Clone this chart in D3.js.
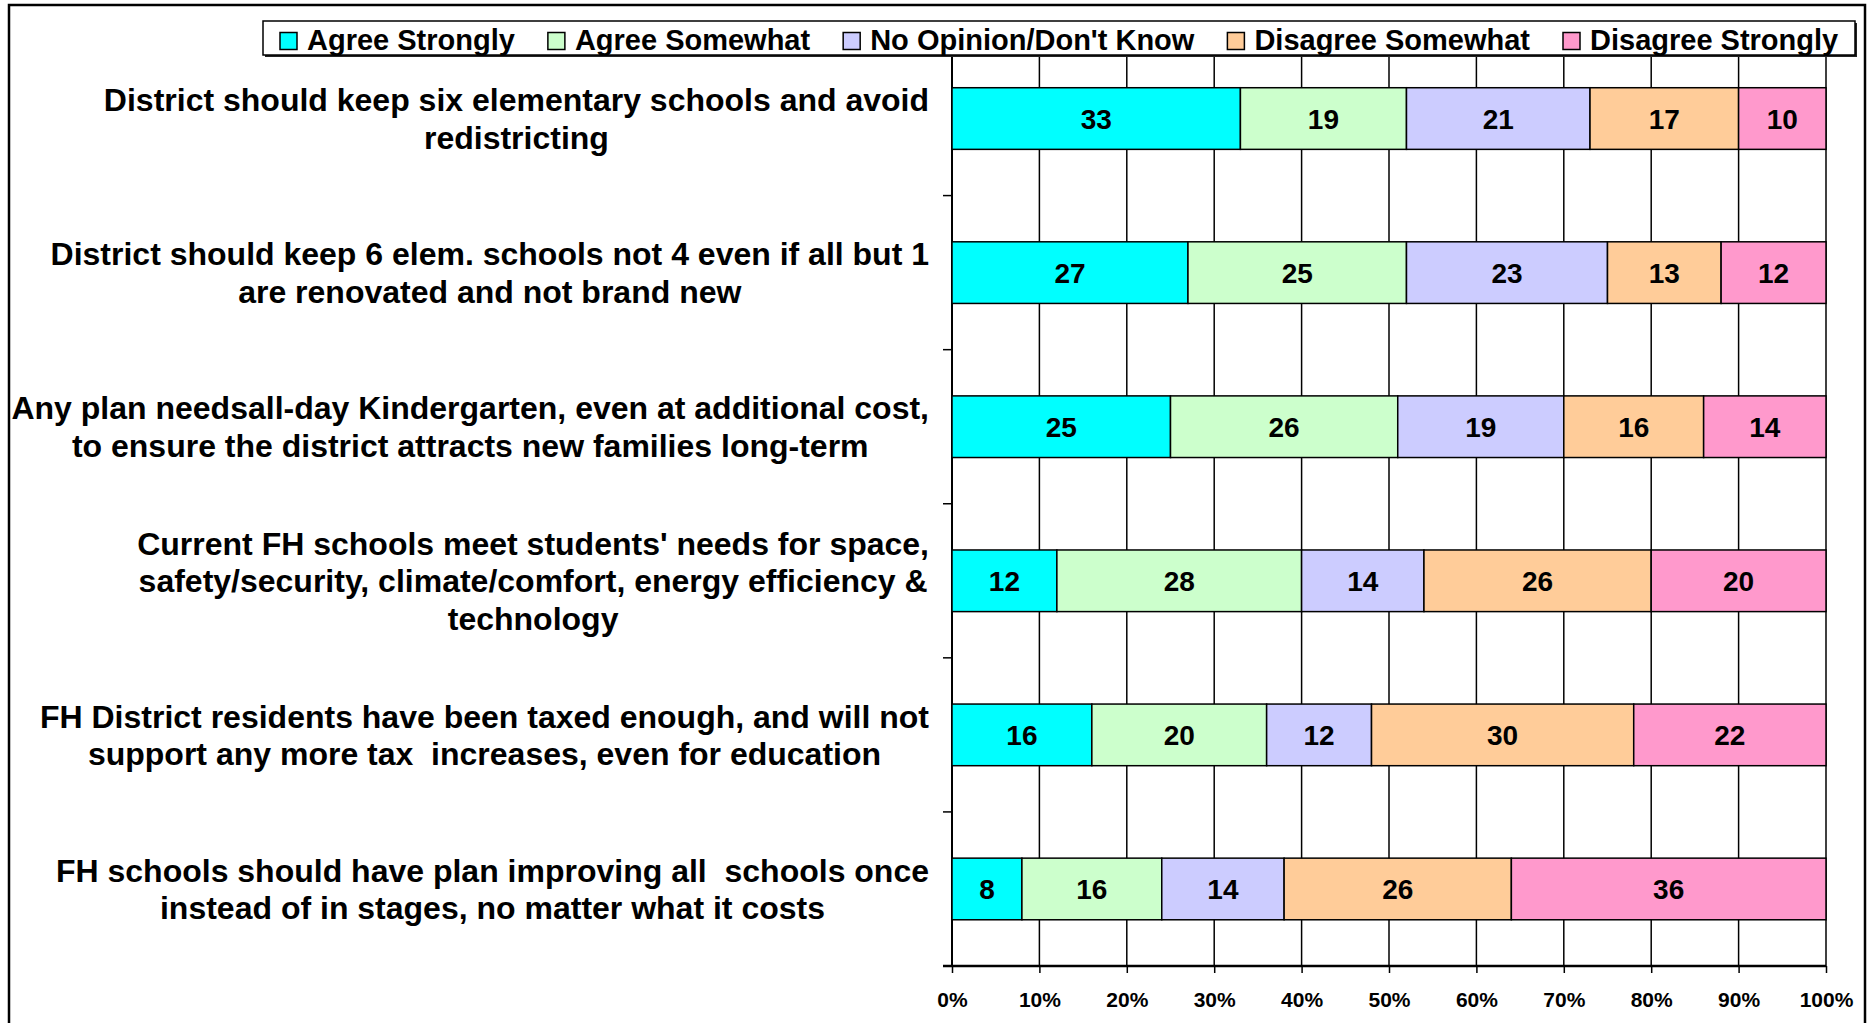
<!DOCTYPE html>
<html>
<head>
<meta charset="utf-8">
<script src="https://cdnjs.cloudflare.com/ajax/libs/d3/7.8.5/d3.min.js"></script>
<style>
  body { margin: 0; background: #fff; }
  text { font-family: "Liberation Sans", Arial, sans-serif; font-weight: bold; fill: #000; }
</style>
</head>
<body>
<script>
// survey statements, top to bottom (lines as shown in the chart)
var categories = [
  ["District should keep six elementary schools and avoid", "redistricting"],
  ["District should keep 6 elem. schools not 4 even if all but 1", "are renovated and not brand new"],
  ["Any plan needsall-day Kindergarten, even at additional cost,", "to ensure the district attracts new families long-term"],
  ["Current FH schools meet students' needs for space,", "safety/security, climate/comfort, energy efficiency &", "technology"],
  ["FH District residents have been taxed enough, and will not", "support any more tax  increases, even for education"],
  ["FH schools should have plan improving all  schools once", "instead of in stages, no matter what it costs"]
];
var seriesNames = ["Agree Strongly", "Agree Somewhat", "No Opinion/Don't Know", "Disagree Somewhat", "Disagree Strongly"];
var agreeStrongly   = [33, 27, 25, 12, 16, 8];
var agreeSomewhat   = [19, 25, 26, 28, 20, 16];
var noOpinion       = [21, 23, 19, 14, 12, 14];
var disagreeSomewhat = [17, 13, 16, 26, 30, 26];
var disagreeStrongly = [10, 12, 14, 20, 22, 36];
var xTicks = [0, 10, 20, 30, 40, 50, 60, 70, 80, 90, 100];

var colors = ["#00ffff", "#ccffcc", "#ccccff", "#ffcc99", "#ff99cc"];

var W = 1869, H = 1023;
var plot = {left: 952, right: 1826, top: 41.5, bottom: 966};

var svg = d3.select("body").append("svg")
    .attr("width", W)
    .attr("height", H);

svg.append("rect").attr("width", W).attr("height", H).attr("fill", "#fff");

// outer frame (bottom edge runs past the picture)
svg.append("rect")
    .attr("x", 9).attr("y", 5)
    .attr("width", 1856).attr("height", 1040)
    .attr("fill", "none")
    .attr("stroke", "#000")
    .attr("stroke-width", 2.5);

var keys = categories.map(function(d, i) { return "c" + i; });

var x = d3.scaleLinear().domain([0, 100]).range([plot.left, plot.right]);
var y = d3.scaleBand().domain(keys)
    .range([plot.top, plot.bottom])
    .paddingInner(0.6).paddingOuter(0.3);

// build rows for stacking
var rows = keys.map(function(k, i) {
  return {key: k, s0: agreeStrongly[i], s1: agreeSomewhat[i], s2: noOpinion[i], s3: disagreeSomewhat[i], s4: disagreeStrongly[i]};
});
var stack = d3.stack().keys(["s0", "s1", "s2", "s3", "s4"]);
var series = stack(rows);

// vertical gridlines
svg.append("g").attr("class", "grid")
  .selectAll("line")
  .data(xTicks)
  .enter().append("line")
    .attr("x1", function(d) { return x(d); })
    .attr("x2", function(d) { return x(d); })
    .attr("y1", plot.top)
    .attr("y2", plot.bottom)
    .attr("stroke", "#000")
    .attr("stroke-width", 1.5);

// x axis
var xAxis = d3.axisBottom(x)
    .tickValues(xTicks)
    .tickFormat(function(d) { return d + "%"; })
    .tickSize(7)
    .tickPadding(19);

var gx = svg.append("g")
    .attr("transform", "translate(0," + plot.bottom + ")")
    .call(xAxis);
gx.select(".domain").attr("stroke", "#000").attr("stroke-width", 2.5).attr("d", "M" + (plot.left - 9) + ",0H" + plot.right);
gx.selectAll(".tick line").attr("stroke", "#000").attr("stroke-width", 1.5);
gx.selectAll(".tick text")
    .style("font-family", "'Liberation Sans', Arial, sans-serif")
    .style("font-weight", "bold")
    .style("font-size", "21px")
    .attr("fill", "#000");

// y axis line and ticks between categories
var step = y.step();
var gap = step - y.bandwidth();
var bounds = keys.map(function(k) { return y(k) - gap / 2; });
bounds.push(plot.bottom);

svg.append("line")
    .attr("x1", plot.left).attr("x2", plot.left)
    .attr("y1", plot.top).attr("y2", plot.bottom)
    .attr("stroke", "#000").attr("stroke-width", 2);

svg.append("g").selectAll("line")
  .data(bounds)
  .enter().append("line")
    .attr("x1", plot.left - 9).attr("x2", plot.left)
    .attr("y1", function(d) { return d; })
    .attr("y2", function(d) { return d; })
    .attr("stroke", "#000").attr("stroke-width", 1.5);

// bars
var layer = svg.selectAll(".layer")
    .data(series)
  .enter().append("g")
    .attr("class", "layer")
    .attr("fill", function(d, i) { return colors[i]; });

layer.selectAll("rect")
    .data(function(d) { return d; })
  .enter().append("rect")
    .attr("x", function(d) { return x(d[0]); })
    .attr("y", function(d) { return y(d.data.key); })
    .attr("width", function(d) { return x(d[1]) - x(d[0]); })
    .attr("height", y.bandwidth())
    .attr("stroke", "#000")
    .attr("stroke-width", 1.5);

layer.selectAll("text")
    .data(function(d) { return d; })
  .enter().append("text")
    .attr("x", function(d) { return (x(d[0]) + x(d[1])) / 2; })
    .attr("y", function(d) { return y(d.data.key) + y.bandwidth() / 2; })
    .attr("dy", "0.36em")
    .attr("text-anchor", "middle")
    .style("font-size", "28px")
    .text(function(d) { return d[1] - d[0]; });

// category labels: lines centred on each other, block right-aligned
var labelRight = 929, lineH = 37.5;
var labels = svg.append("g").attr("class", "labels");
categories.forEach(function(lines, i) {
  var g = labels.append("g");
  var cy = y(keys[i]) + y.bandwidth() / 2;
  var texts = lines.map(function(t, j) {
    return g.append("text")
        .attr("y", cy + (j - (lines.length - 1) / 2) * lineH)
        .attr("dy", "0.36em")
        .attr("text-anchor", "middle")
        .style("font-size", "32px")
        .style("white-space", "pre")
        .text(t);
  });
  var maxW = d3.max(texts, function(t) { return t.node().getComputedTextLength(); });
  texts.forEach(function(t) { t.attr("x", labelRight - maxW / 2); });
});

// legend
var legend = svg.append("g").attr("class", "legend");
legend.append("rect")
    .attr("x", 265).attr("y", 23)
    .attr("width", 1592).attr("height", 34)
    .attr("fill", "#222");
legend.append("rect")
    .attr("x", 263).attr("y", 21)
    .attr("width", 1592).attr("height", 34)
    .attr("fill", "#fff")
    .attr("stroke", "#000")
    .attr("stroke-width", 1.5);

var lx = 280;
seriesNames.forEach(function(name, i) {
  legend.append("rect")
      .attr("x", lx).attr("y", 32.5)
      .attr("width", 17).attr("height", 17)
      .attr("fill", colors[i])
      .attr("stroke", "#000")
      .attr("stroke-width", 1.5);
  var t = legend.append("text")
      .attr("x", lx + 27)
      .attr("y", 49.5)
      .style("font-size", "29px")
      .text(name);
  lx += 27 + t.node().getComputedTextLength() + 33;
});
</script>
</body>
</html>
